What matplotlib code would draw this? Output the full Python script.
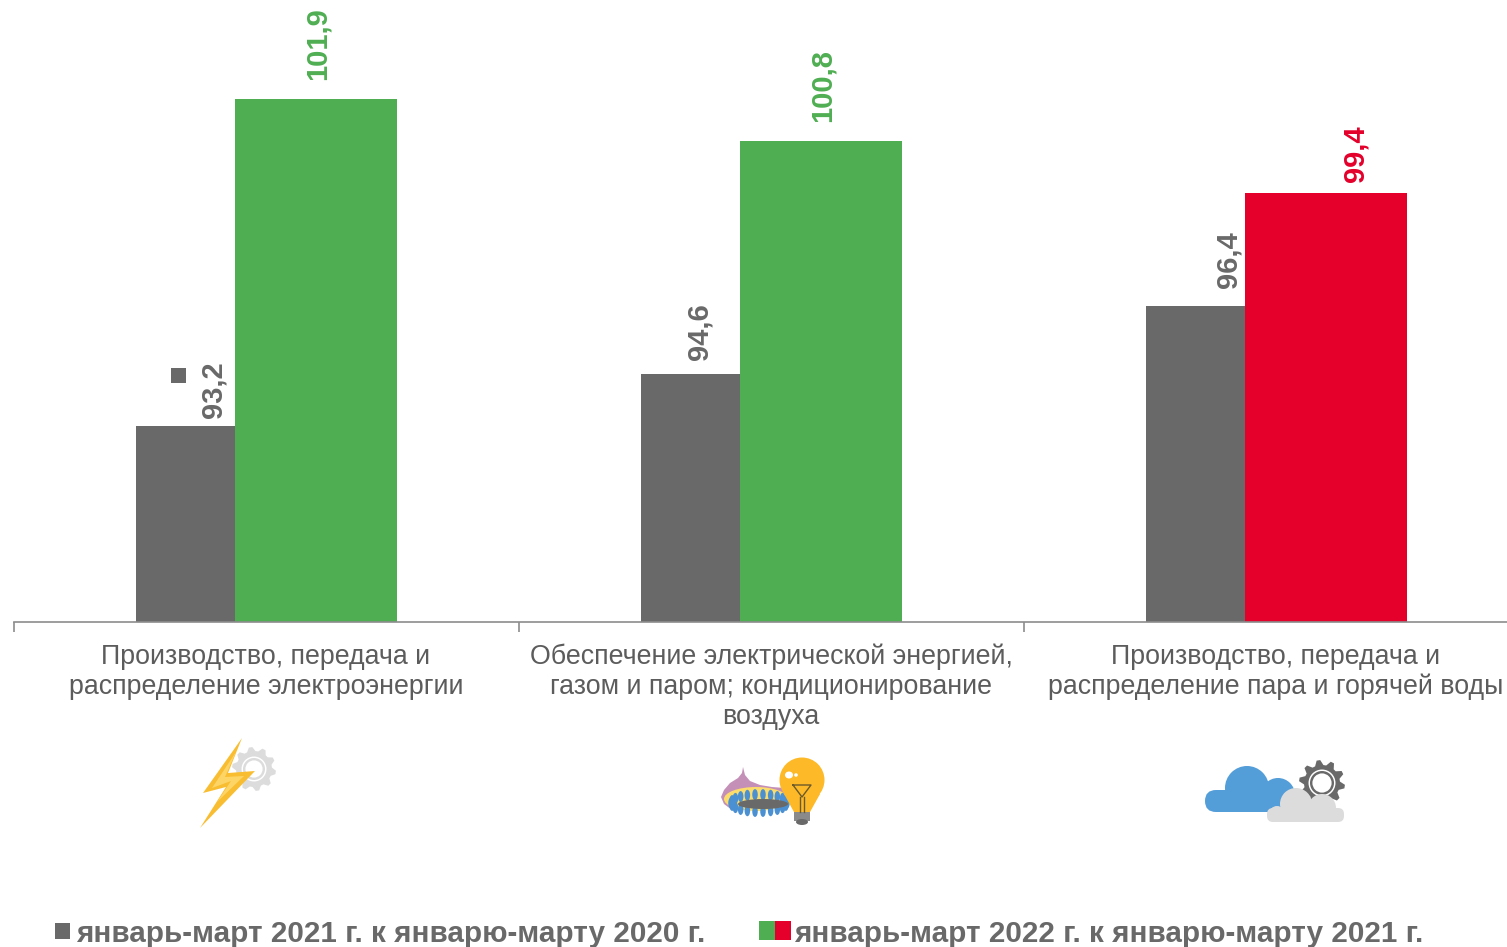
import numpy as np
import matplotlib
matplotlib.use("Agg")
import matplotlib.pyplot as plt
from matplotlib.patches import Polygon, Circle, Ellipse, Rectangle, FancyBboxPatch

plt.rcParams['font.family'] = ['Liberation Sans', 'DejaVu Sans']

categories = ["Производство, передача и\nраспределение электроэнергии",
              "Обеспечение электрической энергией,\nгазом и паром; кондиционирование\nвоздуха",
              "Производство, передача и\nраспределение пара и горячей воды"]
values_2021 = [93.2, 94.6, 96.4]
values_2022 = [101.9, 100.8, 99.4]
labels_2021 = ["93,2", "94,6", "96,4"]
labels_2022 = ["101,9", "100,8", "99,4"]
colors_2022 = ["#4fae52", "#4fae52", "#e4002b"]
legend_2021 = "январь-март 2021 г. к январю-марту 2020 г."
legend_2022 = "январь-март 2022 г. к январю-марту 2021 г."

# label offsets from the bar centre / bar top, in pixels
offset_2021 = [(28, 8), (9, 14), (33, 18)]
offset_2022 = [(1, 19), (1, 19), (29, 11)]

GRAY = "#696969"
TEXT = "#5c5c5c"
W, H = 1507, 947

fig = plt.figure(figsize=(W / 100, H / 100), dpi=100)

# main axes: baseline at y=622px, one category = 505px
ax = fig.add_axes([14 / W, 1 - 622 / H, (W - 14) / W, 622 / H])
ax.set_xlim(0, (W - 14) / 505)
ax.set_ylim(88, 88 + 622 / 37.6)

x = np.arange(3)
ax.bar(x + 0.3396, np.array(values_2021) - 88, 0.196, bottom=88, color=GRAY)
ax.bar(x + 0.5983, np.array(values_2022) - 88, 0.3215, bottom=88, color=colors_2022)

for i in range(3):
    ax.annotate(labels_2021[i], (i + 0.3396, values_2021[i]), xytext=offset_2021[i], textcoords="offset pixels",
                rotation=90, ha="center", va="bottom", fontsize=21, fontweight="bold", color=GRAY)
    ax.annotate(labels_2022[i], (i + 0.5983, values_2022[i]), xytext=offset_2022[i], textcoords="offset pixels",
                rotation=90, ha="center", va="bottom", fontsize=21, fontweight="bold", color=colors_2022[i],
                annotation_clip=False)

for s in ["top", "right", "left"]:
    ax.spines[s].set_visible(False)
ax.spines["bottom"].set_color("#8c8c8c")
ax.spines["bottom"].set_linewidth(1.2)
ax.set_yticks([])
ax.set_xticks([0, 1, 2])
ax.set_xticklabels([])
ax.tick_params(axis="x", length=7, width=1.2, color="#8c8c8c")
ax.patch.set_alpha(0)

# overlay in pixel coordinates for text and pictograms
ov = fig.add_axes([0, 0, 1, 1])
ov.set_xlim(0, W)
ov.set_ylim(H, 0)
ov.axis("off")
ov.patch.set_alpha(0)

cat_x = [266, 771, 1276]
for cx, c in zip(cat_x, categories):
    ov.text(cx, 643.5, c, ha="center", va="top", fontsize=19.3, color=TEXT, linespacing=1.21)

# stray marker next to first label
ov.add_patch(Rectangle((171, 368), 15, 15, color=GRAY, lw=0))


def gear(cx, cy, r_out, r_in, teeth, color, ring_r, ring_w, ring_color="white"):
    ang = np.linspace(0, 2 * np.pi, teeth * 4, endpoint=False) + np.pi / (teeth * 4)
    rad = np.tile([r_out, r_out, r_in, r_in], teeth)
    ov.add_patch(Polygon(np.c_[cx + rad * np.cos(ang), cy + rad * np.sin(ang)], color=color, lw=0))
    ov.add_patch(Circle((cx, cy), ring_r + ring_w, color=ring_color, lw=0))
    ov.add_patch(Circle((cx, cy), ring_r, color=color, lw=0))
    ov.add_patch(Circle((cx, cy), ring_r - ring_w * 1.6, color="white", lw=0))


# bolt + gear
gear(254, 769, 22, 18, 10, "#dcdcdc", 11, 1.5)
ov.add_patch(Polygon([(242, 738), (203, 793), (226, 787), (200, 828), (255, 771), (228, 773)], color="#f9bd31", lw=0))
ov.add_patch(Polygon([(236, 752), (212, 788), (231, 781), (217, 802), (244, 776), (225, 777)], color="#fdd567", lw=0))

# burner + lamp
ov.add_patch(Polygon([(743, 767), (742, 773), (738, 778), (730, 783), (724, 790), (721, 797), (724, 804), (732, 810),
                      (785, 795), (785, 788), (772, 787), (760, 785), (750, 781), (745, 775)], color="#c490b8", lw=0))
ov.add_patch(Ellipse((756, 799), 64, 24, color="#fcdc6a", lw=0))
for a in np.linspace(0, 2 * np.pi, 22, endpoint=False):
    ov.add_patch(Ellipse((759 + 28 * np.cos(a), 803 + 8.5 * np.sin(a)), 5.5, 11, color="#4a90d2", lw=0))
ov.add_patch(Ellipse((763, 804), 50, 10, color="#696969", lw=0))
ov.add_patch(Circle((802, 780), 22.5, color="#fdb927", lw=0))
ov.add_patch(Polygon([(784, 794), (820, 794), (810, 812), (794, 812)], color="#fdb927", lw=0))
ov.plot([793, 811, 802, 793], [785, 785, 797, 785], color="#6b5a2a", lw=1)
ov.plot([800, 800], [797, 812], color="#6b5a2a", lw=1)
ov.plot([804, 804], [797, 812], color="#6b5a2a", lw=1)
ov.add_patch(Ellipse((789, 775), 8, 7, color="white", lw=0))
ov.add_patch(Circle((796, 775), 1.8, color="white", lw=0))
ov.add_patch(Rectangle((794, 812), 16, 9, color="#8a8a8a", lw=0))
ov.add_patch(Ellipse((802, 822), 12, 6, color="#696969", lw=0))

# clouds + gear
gear(1322, 783, 23, 18, 10, "#696969", 12, 1.5)
blue = "#539dd8"
ov.add_patch(FancyBboxPatch((1205, 790), 90, 22, boxstyle="round,pad=0,rounding_size=11", color=blue, lw=0))
ov.add_patch(Circle((1247, 788), 22, color=blue, lw=0))
ov.add_patch(Circle((1278, 795), 17, color=blue, lw=0))
grey = "#dcdcdc"
ov.add_patch(FancyBboxPatch((1267, 808), 77, 14, boxstyle="round,pad=0,rounding_size=6", color=grey, lw=0))
ov.add_patch(Circle((1296, 804), 16, color=grey, lw=0))
ov.add_patch(Circle((1322, 808), 14, color=grey, lw=0))
ov.add_patch(Circle((1277, 814), 8, color=grey, lw=0))

# legend
ov.add_patch(Rectangle((55, 923), 15, 16, color=GRAY, lw=0))
ov.text(76, 934, legend_2021, ha="left", va="center", fontsize=21.35, fontweight="bold", color=GRAY)
ov.add_patch(Rectangle((759, 921), 16, 19, color=colors_2022[0], lw=0))
ov.add_patch(Rectangle((775, 921), 16, 19, color=colors_2022[2], lw=0))
ov.text(794, 934, legend_2022, ha="left", va="center", fontsize=21.35, fontweight="bold", color=GRAY)

fig.savefig("out.png", dpi=100)
